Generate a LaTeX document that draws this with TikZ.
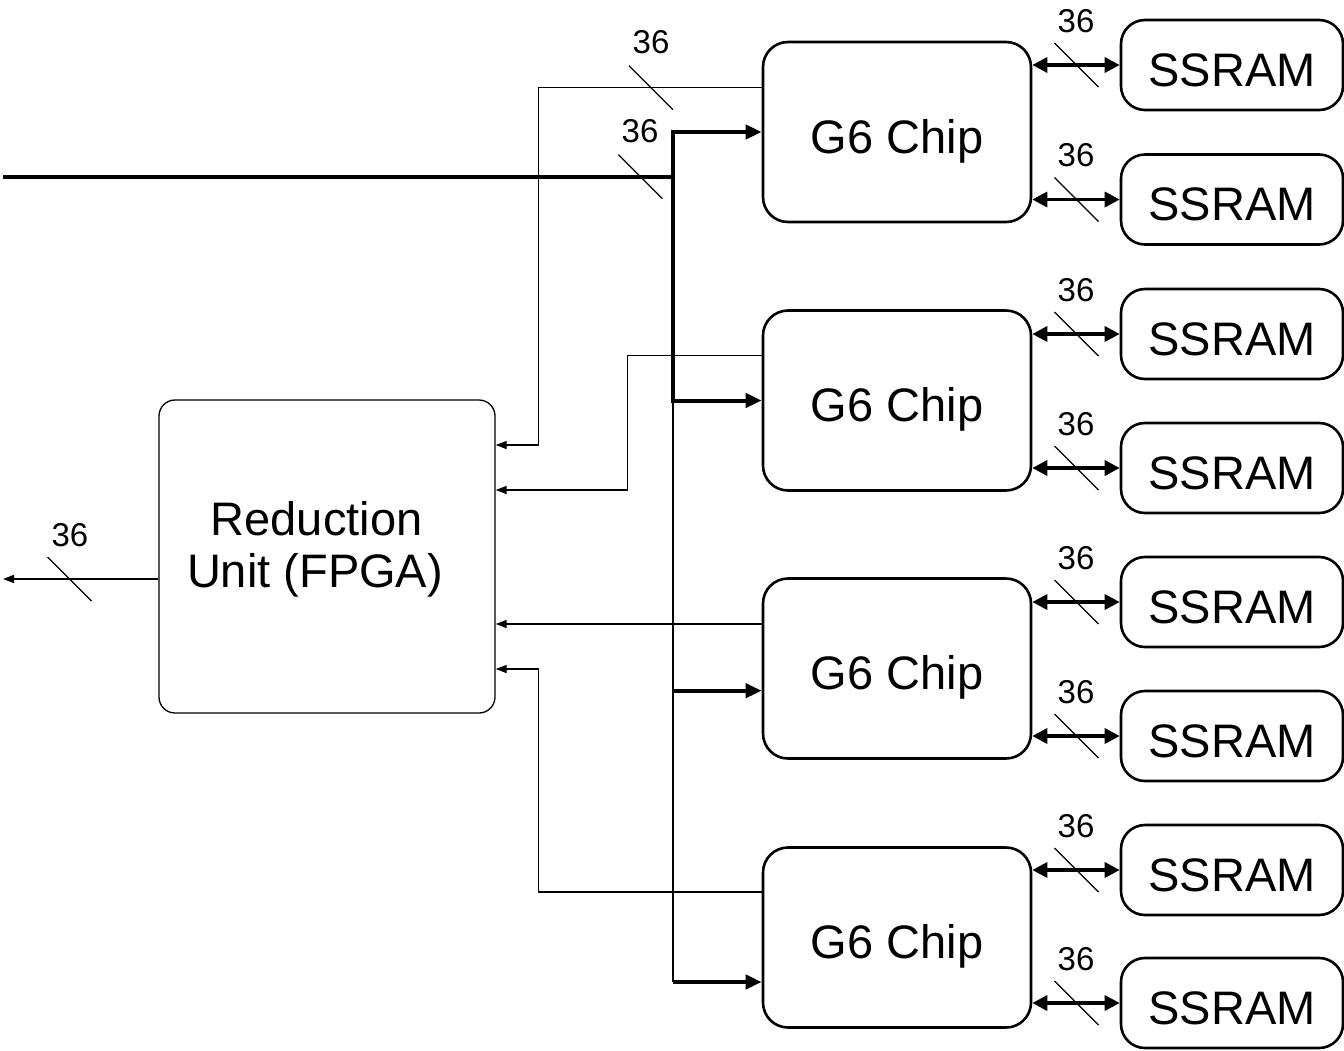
\documentclass[tikz,border=0pt]{standalone}
\usepackage{fontspec}
\setmainfont{Liberation Sans}
\usetikzlibrary{arrows.meta}
\begin{document}
\begin{tikzpicture}[x=1pt,y=-1pt,
  chipbox/.style={draw, line width=2.6pt, rounded corners=25pt, minimum width=268pt, minimum height=180pt, inner sep=0pt},
  ssbox/.style={draw, line width=2.6pt, rounded corners=24pt, minimum width=222pt, minimum height=90pt, inner sep=0pt},
  redbox/.style={draw, line width=1.3pt, rounded corners=16pt, minimum width=336pt, minimum height=313pt, inner sep=0pt},
  lbl/.style={font=\fontsize{47}{52}\selectfont, inner sep=0pt, anchor=base},
  numlbl/.style={font=\fontsize{33}{36}\selectfont, inner sep=0pt, anchor=base},
  thinline/.style={line width=1.3pt},
  thinarrow/.style={line width=1.3pt, -{Triangle[length=11pt,width=8pt]}},
  busline/.style={line width=4pt, miter limit=10},
  busarrow/.style={line width=4pt, -{Triangle[length=16pt,width=14pt]}},
  ssarrow/.style={line width=3.4pt, {Triangle[length=15pt,width=15pt]}-{Triangle[length=15pt,width=15pt]}},
  slash/.style={line width=1.2pt}
]
\useasboundingbox (0,0) rectangle (1344,1050);

% Reduction unit
\node[redbox] (ru) at (327,556.5) {};
\node[lbl] (rt1) at (316.5,535) {Reduction};
\node[lbl] (rt2) at (315,587) {Unit (FPGA)};

% G6 chips
\foreach \i/\y in {1/132,2/400.5,3/668.5,4/937.5}{
  \node[chipbox] (c\i) at (897,\y) {};
  \node[lbl] (ct\i) at (897,\y+21) {G6 Chip};
}

% SSRAMs
\foreach \i/\y in {1/65,2/199.5,3/334,4/468,5/602,6/736,7/870,8/1003}{
  \pgfmathtruncatemacro\ch{(\i+1)/2}
  \node[ssbox] (s\i) at (1232,\y) {};
  \node[lbl] (st\i) at (1232,\y+21) {SSRAM};
  \draw[ssarrow] (s\i.west -| c\ch.east) -- (s\i.west);
  \coordinate (k\i) at (1076.5,\y);
  \draw[slash] ([shift={(-22,-22)}]k\i) -- ([shift={(22,22)}]k\i);
  \node[numlbl] (n\i) at (1076,\y-33) {36};
}

% input bus
\coordinate (inL) at (3,176.7);
\coordinate (bt) at (673,132);
\coordinate (bj) at (673,176.7);
\coordinate (bm) at (673,400.5);
\coordinate (b3) at (673,690.7);
\coordinate (bb) at (673,982);
\draw[busline] (inL) -- (bj);
\draw[busline, {Triangle[length=16pt,width=14pt]}-{Triangle[length=16pt,width=14pt]}] (c1.west) -- (bt) -- (bm) -- (c2.west);
\draw[thinline] (bm) -- (bb);
\draw[busarrow] (b3) -- (b3 -| c3.west);
\draw[busarrow] (bb) -- (bb -| c4.west);
\coordinate (kin) at (640.5,176.7);
\draw[slash] ([shift={(-22,-22)}]kin) -- ([shift={(22,22)}]kin);
\node[numlbl] (nin) at (640,142) {36};

% chip outputs to reduction unit
\draw[thinarrow] ([yshift=44.3pt]c1.west) -- ++(-223.5,0) |- ([yshift=111.5pt]ru.east);
\draw[thinarrow] ([yshift=44.8pt]c2.west) -- ++(-134,0) |- ([yshift=66.5pt]ru.east);
\draw[thinarrow] ([yshift=44.5pt]c3.west) -- ([yshift=-67.5pt]ru.east);
\draw[thinarrow] ([yshift=45.5pt]c4.west) -- ++(-223.5,0) |- ([yshift=-112.5pt]ru.east);
\coordinate (kc1) at (651,87.7);
\draw[slash] ([shift={(-22,-22)}]kc1) -- ([shift={(22,22)}]kc1);
\node[numlbl] (nc1) at (651,53) {36};

% reduction output
\coordinate (outL) at (3,579);
\draw[thinarrow] (ru.west |- outL) -- (outL);
\coordinate (kout) at (69.5,579);
\draw[slash] ([shift={(-22,-22)}]kout) -- ([shift={(22,22)}]kout);
\node[numlbl] (nout) at (70,546) {36};
\end{tikzpicture}
\end{document}
